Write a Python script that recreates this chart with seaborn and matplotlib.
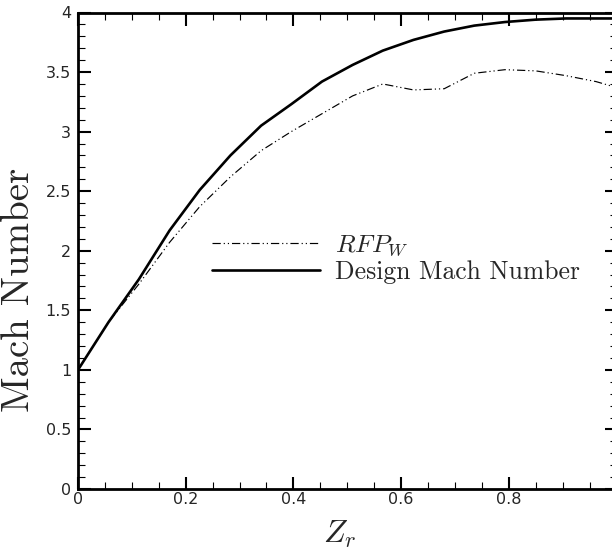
import numpy as np
import pandas as pd
import matplotlib
matplotlib.use("Agg")
import matplotlib.pyplot as plt
from matplotlib.ticker import MultipleLocator
import seaborn as sns

# Axial stations along the nozzle (normalised)
z_r = [0.0, 0.0566, 0.113, 0.17, 0.226, 0.283, 0.34, 0.396, 0.453, 0.51,
       0.566, 0.623, 0.68, 0.736, 0.793, 0.85, 0.906, 0.962, 1.0]

# Mach number from the RFP_W solution
mach_rfp = [1.0, 1.40, 1.72, 2.07, 2.37, 2.62, 2.84, 3.0, 3.15, 3.30,
            3.40, 3.35, 3.36, 3.49, 3.52, 3.51, 3.47, 3.42, 3.37]

# Design Mach number distribution
mach_design = [1.0, 1.40, 1.76, 2.17, 2.51, 2.80, 3.05, 3.23, 3.42, 3.56,
               3.68, 3.77, 3.84, 3.89, 3.92, 3.94, 3.95, 3.95, 3.95]

series_labels = [r"$RFP_W$", "Design Mach Number"]

df = pd.concat([
    pd.DataFrame({"Zr": z_r, "Mach": mach_rfp, "series": series_labels[0]}),
    pd.DataFrame({"Zr": z_r, "Mach": mach_design, "series": series_labels[1]}),
])

sns.set_style("ticks")
plt.rcParams["mathtext.fontset"] = "cm"
plt.rcParams["axes.unicode_minus"] = False

fig = plt.figure(figsize=(6.12, 5.54), dpi=100)
ax = fig.add_axes([78 / 612, 1 - 489 / 554, (616.5 - 78) / 612, (489 - 12.5) / 554])

sns.lineplot(data=df, x="Zr", y="Mach", hue="series", style="series",
             palette={series_labels[0]: "black", series_labels[1]: "black"},
             dashes={series_labels[0]: (7, 2.5, 1, 2.5, 1, 2.5), series_labels[1]: ""},
             size="series", sizes={series_labels[0]: 0.85, series_labels[1]: 1.9},
             sort=False, ax=ax, legend=False)

# legend built from the drawn lines
lines = ax.get_lines()
leg = ax.legend(lines[:2], series_labels, loc="upper left",
                bbox_to_anchor=(0.215, 0.575), frameon=False,
                handlelength=4.2, handletextpad=0.6, labelspacing=0.1,
                borderpad=0.2, prop={"family": "cmr10", "size": 18.5})

ax.set_xlim(0, 1)
ax.set_ylim(0, 4)
ax.xaxis.set_major_locator(MultipleLocator(0.2))
ax.xaxis.set_minor_locator(MultipleLocator(0.05))
ax.yaxis.set_major_locator(MultipleLocator(0.5))
ax.yaxis.set_minor_locator(MultipleLocator(0.1))
ax.set_xticks([0, 0.2, 0.4, 0.6, 0.8, 1.0])
ax.set_xticklabels(["0", "0.2", "0.4", "0.6", "0.8", "1"])
ax.set_yticks([0, 0.5, 1, 1.5, 2, 2.5, 3, 3.5, 4])
ax.set_yticklabels(["0", "0.5", "1", "1.5", "2", "2.5", "3", "3.5", "4"])

ax.tick_params(which="both", direction="in", top=True, right=True, color="black")
ax.tick_params(which="major", length=9, width=1.5)
ax.tick_params(which="minor", length=5, width=0.8)
ax.tick_params(axis="x", which="major", pad=2, labelsize=11.5)
ax.tick_params(axis="y", which="major", pad=5, labelsize=11.5)
for lab in ax.get_xticklabels() + ax.get_yticklabels():
    lab.set_family("DejaVu Sans")

for sp in ax.spines.values():
    sp.set_linewidth(2.0)
    sp.set_color("black")

ax.set_xlabel(r"$Z_r$", fontsize=23)
ax.set_ylabel("Mach Number", family="cmr10", fontsize=28)
ax.xaxis.set_label_coords((340 - 78) / 538.5, -(519 - 489) / 476.5)
ax.yaxis.set_label_coords(-(78 - 37) / 538.5, (489 - 290) / 476.5)

fig.savefig("out.png", dpi=100)
